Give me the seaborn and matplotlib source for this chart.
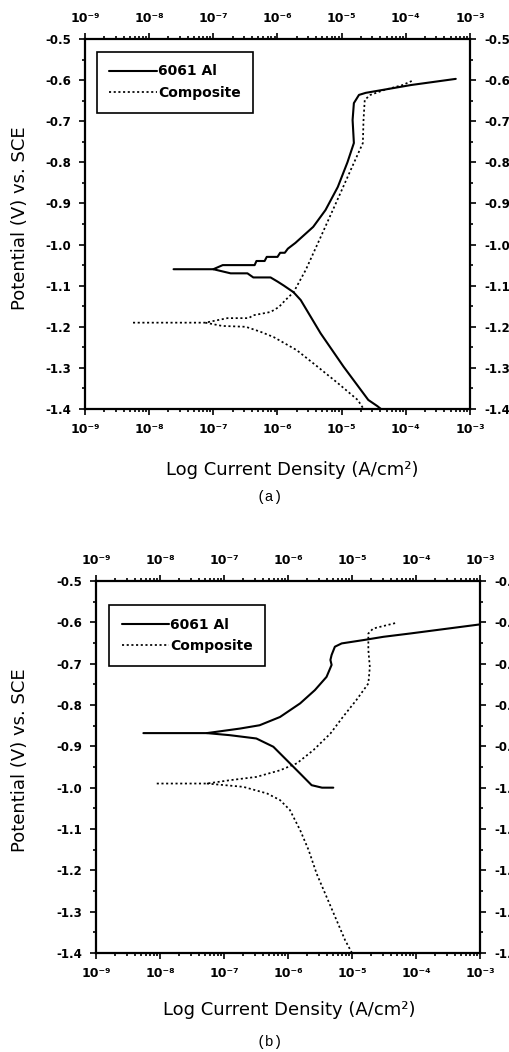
import numpy as np
import pandas as pd
import matplotlib
matplotlib.use("Agg")
import matplotlib.pyplot as plt
import matplotlib.ticker as mticker
import seaborn as sns

# ---------------- data (current density A/cm^2, potential V vs SCE) ----------------
# Panel (a)
a_al_anodic_i = [2.4e-8, 1.0e-7, 1.4e-7, 4.4e-7, 4.7e-7, 6.3e-7, 6.8e-7, 1.0e-6, 1.1e-6, 1.3e-6,
                 1.45e-6, 1.9e-6, 3.6e-6, 5.6e-6, 8.7e-6, 1.23e-5, 1.55e-5, 1.48e-5, 1.55e-5,
                 1.86e-5, 2.37e-5, 1.2e-4, 6.0e-4]
a_al_anodic_E = [-1.06, -1.06, -1.05, -1.05, -1.04, -1.04, -1.03, -1.03, -1.02, -1.02,
                 -1.01, -0.996, -0.957, -0.916, -0.86, -0.80, -0.753, -0.697, -0.656,
                 -0.636, -0.631, -0.612, -0.597]
a_al_cath_i = [1.0e-7, 1.86e-7, 3.4e-7, 4.2e-7, 7.8e-7, 1.0e-6, 1.26e-6, 1.78e-6, 2.3e-6,
               4.7e-6, 1.07e-5, 2.6e-5, 3.6e-5, 4.1e-5]
a_al_cath_E = [-1.06, -1.07, -1.07, -1.08, -1.08, -1.09, -1.10, -1.116, -1.135,
               -1.216, -1.297, -1.378, -1.393, -1.40]
a_cp_anodic_i = [5.6e-9, 7.5e-8, 1.66e-7, 3.55e-7, 4.2e-7, 7.8e-7, 1.05e-6, 1.33e-6, 1.78e-6,
                 2.75e-6, 4.7e-6, 8.1e-6, 1.38e-5, 2.14e-5, 2.19e-5, 2.29e-5, 2.8e-5, 4.6e-5,
                 8.9e-5, 1.33e-4]
a_cp_anodic_E = [-1.19, -1.19, -1.179, -1.179, -1.172, -1.164, -1.152, -1.135, -1.116,
                 -1.062, -0.982, -0.90, -0.819, -0.753, -0.697, -0.648, -0.636, -0.624,
                 -0.612, -0.60]
a_cp_cath_i = [7.5e-8, 1.38e-7, 3.2e-7, 5.4e-7, 8.7e-7, 2.0e-6, 4.2e-6, 8.7e-6, 1.78e-5, 2.2e-5]
a_cp_cath_E = [-1.19, -1.198, -1.200, -1.212, -1.225, -1.257, -1.297, -1.337, -1.378, -1.40]

# Panel (b)
b_al_anodic_i = [5.5e-9, 5.4e-8, 1.78e-7, 3.6e-7, 7.5e-7, 1.55e-6, 2.63e-6, 4.0e-6, 4.8e-6,
                 4.6e-6, 4.8e-6, 5.4e-6, 6.9e-6, 1.5e-5, 3.1e-5, 8.1e-5, 1.0e-3]
b_al_anodic_E = [-0.868, -0.868, -0.857, -0.849, -0.829, -0.796, -0.764, -0.732, -0.703,
                 -0.691, -0.679, -0.659, -0.651, -0.643, -0.635, -0.627, -0.605]
b_al_cath_i = [5.4e-8, 1.23e-7, 3.2e-7, 5.9e-7, 9.5e-7, 1.55e-6, 2.34e-6, 3.4e-6, 5.1e-6]
b_al_cath_E = [-0.868, -0.873, -0.881, -0.901, -0.933, -0.966, -0.994, -1.0, -1.0]
b_cp_anodic_i = [8.9e-9, 5.4e-8, 1.23e-7, 3.2e-7, 7.5e-7, 1.38e-6, 2.5e-6, 4.6e-6, 7.2e-6,
                 1.17e-5, 1.8e-5, 1.9e-5, 1.8e-5, 1.8e-5, 2.14e-5, 5.0e-5]
b_cp_anodic_E = [-0.99, -0.99, -0.982, -0.974, -0.958, -0.941, -0.909, -0.869, -0.829,
                 -0.788, -0.748, -0.708, -0.667, -0.627, -0.615, -0.601]
b_cp_cath_i = [5.4e-8, 2.0e-7, 4.7e-7, 7.5e-7, 1.07e-6, 1.55e-6, 2.1e-6, 2.8e-6, 4.0e-6,
               5.75e-6, 7.8e-6, 1.0e-5]
b_cp_cath_E = [-0.99, -0.998, -1.014, -1.03, -1.054, -1.103, -1.151, -1.208, -1.264,
               -1.321, -1.369, -1.40]

series_labels = ["6061 Al", "Composite"]
x_ticks = [1e-9, 1e-8, 1e-7, 1e-6, 1e-5, 1e-4, 1e-3]
y_ticks = [-1.4, -1.3, -1.2, -1.1, -1.0, -0.9, -0.8, -0.7, -0.6, -0.5]
x_label = "Log Current Density (A/cm\u00b2)"
y_label = "Potential (V) vs. SCE"
captions = ["(a)", "(b)"]

# ---------------- style ----------------
sns.set_style("ticks")
plt.rcParams["font.family"] = ["DejaVu Sans"]
plt.rcParams["text.color"] = "black"
plt.rcParams["axes.labelcolor"] = "black"
plt.rcParams["xtick.color"] = "black"
plt.rcParams["ytick.color"] = "black"

W, H = 510, 1052
fig = plt.figure(figsize=(W / 100, H / 100), dpi=100)

SUP = str.maketrans("-0123456789", "\u207b\u2070\u00b9\u00b2\u00b3\u2074\u2075\u2076\u2077\u2078\u2079")


def logfmt(v, pos):
    e = int(round(np.log10(v)))
    return "10" + str(e).translate(SUP)


def panel(rect, curves, legend_anchor):
    ax = fig.add_axes(rect)
    for (xi, yE, style, lab) in curves:
        df = pd.DataFrame({"i": xi, "E": yE})
        sns.lineplot(data=df, x="i", y="E", sort=False, estimator=None, ax=ax,
                     color="black", linewidth=1.5 if style == "solid" else 1.25,
                     label=lab)
        ln = ax.lines[-1]
        if style != "solid":
            ln.set_linestyle((0, (1.2, 1.5)))
    ax.set_xscale("log")
    ax.set_xlim(x_ticks[0], x_ticks[-1])
    ax.set_ylim(y_ticks[0], y_ticks[-1])
    ax.xaxis.set_major_locator(mticker.FixedLocator(x_ticks))
    ax.xaxis.set_minor_locator(mticker.LogLocator(base=10, subs=np.arange(2, 10), numticks=20))
    ax.xaxis.set_major_formatter(mticker.FuncFormatter(logfmt))
    ax.xaxis.set_minor_formatter(mticker.NullFormatter())
    ax.yaxis.set_major_locator(mticker.FixedLocator(y_ticks))
    ax.yaxis.set_minor_locator(mticker.MultipleLocator(0.05))
    ax.yaxis.set_major_formatter(mticker.FormatStrFormatter("%.1f"))
    ax.tick_params(which="both", direction="out", top=True, right=True,
                   labeltop=True, labelright=True, color="black", labelcolor="black",
                   width=1.2)
    ax.tick_params(axis="y", which="major", length=4, pad=6, labelsize=8.5)
    ax.tick_params(axis="x", which="major", length=4, pad=6, labelsize=9)
    ax.tick_params(which="minor", length=2.2)
    for lbl in ax.get_xticklabels() + ax.get_yticklabels():
        lbl.set_fontweight("bold")
    for sp in ax.spines.values():
        sp.set_linewidth(1.6)
        sp.set_color("black")
    ax.set_xlabel("")
    ax.set_ylabel("")
    handles, labels = ax.get_legend_handles_labels()
    leg = ax.legend(handles, labels, loc="upper left", bbox_to_anchor=legend_anchor,
                    borderaxespad=0, frameon=True, fancybox=False, edgecolor="black",
                    framealpha=1, handlelength=3.4, handletextpad=0.1,
                    borderpad=0.9, labelspacing=0.55,
                    prop={"family": "DejaVu Sans", "weight": "bold", "size": 10})
    leg.get_frame().set_linewidth(1.2)
    for t in leg.get_texts():
        t.set_color("black")
    return ax


ax_a = panel([85 / W, 1 - 409 / H, 385 / W, 370 / H],
             [(a_al_anodic_i, a_al_anodic_E, "solid", series_labels[0]),
              (a_al_cath_i, a_al_cath_E, "solid", None),
              (a_cp_anodic_i, a_cp_anodic_E, "dot", series_labels[1]),
              (a_cp_cath_i, a_cp_cath_E, "dot", None)],
             (0.031, 0.965))

ax_b = panel([96 / W, 1 - 953 / H, 384 / W, 372 / H],
             [(b_al_anodic_i, b_al_anodic_E, "solid", series_labels[0]),
              (b_al_cath_i, b_al_cath_E, "solid", None),
              (b_cp_anodic_i, b_cp_anodic_E, "dot", series_labels[1]),
              (b_cp_cath_i, b_cp_cath_E, "dot", None)],
             (0.034, 0.935))

# axis labels and captions
fig.text(292 / W, 1 - 470 / H, x_label, ha="center", va="center", fontsize=13, color="black")
fig.text(289 / W, 1 - 1010 / H, x_label, ha="center", va="center", fontsize=13, color="black")
fig.text(20 / W, 1 - 218 / H, y_label, ha="center", va="center", rotation=90, fontsize=13,
         color="black")
fig.text(20 / W, 1 - 760 / H, y_label, ha="center", va="center", rotation=90, fontsize=13,
         color="black")
fig.text(270 / W, 1 - 497 / H, captions[0], ha="center", va="center", fontsize=10.5,
         family="Liberation Mono", color="black")
fig.text(270 / W, 1 - 1042 / H, captions[1], ha="center", va="center", fontsize=10.5,
         family="Liberation Mono", color="black")

fig.savefig("out.png", dpi=100)
